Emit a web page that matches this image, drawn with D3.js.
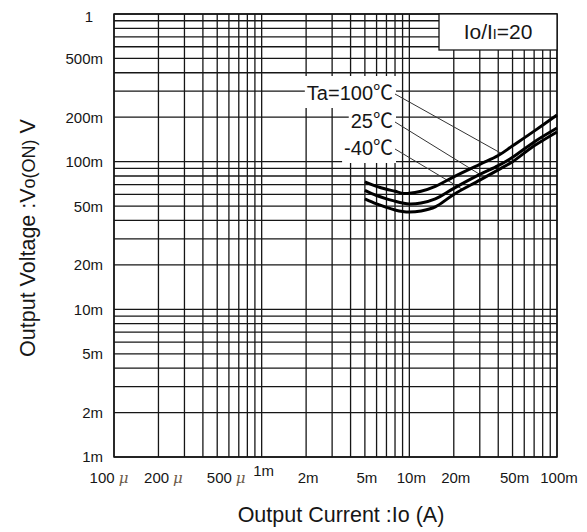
<!DOCTYPE html>
<html>
<head>
<meta charset="utf-8">
<script src="https://cdn.jsdelivr.net/npm/d3@7"></script>
<style>
  body { margin: 0; background: #fff; }
  svg { display: block; font-family: "Liberation Sans", Arial, sans-serif; }
</style>
</head>
<body>
<svg id="chart" width="587" height="532"></svg>
<script>
// output current (A) where the curves were read
let current = [0.005, 0.006, 0.007, 0.008, 0.009, 0.010, 0.012, 0.015, 0.020, 0.030, 0.040, 0.050, 0.070, 0.100];

// output voltage (V) per ambient temperature
let v100 = [0.073, 0.068, 0.065, 0.063, 0.061, 0.061, 0.063, 0.068, 0.079, 0.096, 0.110, 0.128, 0.161, 0.207];
let v25  = [0.064, 0.059, 0.056, 0.054, 0.0525, 0.0517, 0.0525, 0.056, 0.066, 0.082, 0.094, 0.107, 0.136, 0.169];
let vm40 = [0.056, 0.0517, 0.049, 0.0471, 0.046, 0.0456, 0.0464, 0.0494, 0.060, 0.075, 0.088, 0.100, 0.128, 0.159];

let seriesNames = ["Ta=100", "25", "-40"];
let leaderAt = [0.042, 0.030, 0.023];   // current where each label's leader meets its curve

let xTickVals = [1e-4, 2e-4, 5e-4, 1e-3, 2e-3, 5e-3, 1e-2, 2e-2, 5e-2, 1e-1];
let xTickLabels = ["100", "200", "500", "1m", "2m", "5m", "10m", "20m", "50m", "100m"];
let yTickVals = [1, 0.5, 0.2, 0.1, 0.05, 0.02, 0.01, 0.005, 0.002, 0.001];
let yTickLabels = ["1", "500m", "200m", "100m", "50m", "20m", "10m", "5m", "2m", "1m"];

let plotL = 114, plotR = 557, plotT = 14, plotB = 457;
let ink = "#161616";

let svg = d3.select("#chart");

let x = d3.scaleLog().domain([1e-4, 1e-1]).range([plotL, plotR]);
let y = d3.scaleLog().domain([1e-3, 1]).range([plotB, plotT]);

// grid
let grid = svg.append("g");
grid.selectAll(".vg")
    .data(x.ticks())
    .enter()
    .append("line")
    .attr("x1", d => x(d)).attr("x2", d => x(d))
    .attr("y1", plotT).attr("y2", plotB)
    .attr("stroke", ink).attr("stroke-width", 1.3);

grid.selectAll(".hg")
    .data(y.ticks())
    .enter()
    .append("line")
    .attr("x1", plotL).attr("x2", plotR)
    .attr("y1", d => y(d)).attr("y2", d => y(d))
    .attr("stroke", ink).attr("stroke-width", 1.3);

svg.append("rect")
    .attr("x", plotL).attr("y", plotT)
    .attr("width", plotR - plotL).attr("height", plotB - plotT)
    .attr("fill", "none").attr("stroke", ink).attr("stroke-width", 1.5);

// tick labels
svg.selectAll(".yl")
    .data(yTickVals)
    .enter()
    .append("text")
    .attr("x", d => d === 1 ? 89 : 103)
    .attr("y", d => y(d) + (d === 1 ? 3 : 0))
    .attr("dy", "0.36em")
    .attr("text-anchor", d => d === 1 ? "middle" : "end")
    .attr("font-size", 15)
    .attr("fill", ink)
    .text((d, i) => yTickLabels[i]);

// the micro labels sit a little off their lines in the original
let microShift = d => d === 1e-4 ? -5 : d === 2e-4 ? 5 : 9;

let xl = svg.selectAll(".xl")
    .data(xTickVals)
    .enter()
    .append("text")
    .attr("x", d => x(d) + (d < 1e-3 ? microShift(d) : 2))
    .attr("y", d => d === 1e-3 ? 476 : 483)
    .attr("text-anchor", "middle")
    .attr("font-size", 15)
    .attr("fill", ink);

xl.append("tspan").text((d, i) => xTickLabels[i]);
xl.filter(d => d < 1e-3)
    .append("tspan")
    .attr("dx", 4)
    .attr("font-family", "'DejaVu Serif', serif")
    .attr("font-style", "italic")
    .attr("fill", "#6b5a4a")
    .text("μ");

// axis titles
svg.append("text")
    .attr("x", 341).attr("y", 522)
    .attr("text-anchor", "middle")
    .attr("font-size", 21.5)
    .attr("fill", ink)
    .text("Output Current :Io  (A)");

let yt = svg.append("text")
    .attr("transform", "translate(35,238) rotate(-90)")
    .attr("text-anchor", "middle")
    .attr("font-size", 21.5)
    .attr("fill", ink);
yt.append("tspan").text("Output Voltage :V");
yt.append("tspan").attr("font-size", 18).text("o(ON)");
yt.append("tspan").text(" V");

// curves
let allSeries = [v100, v25, vm40];
let line = d3.line()
    .x(d => x(d[0]))
    .y(d => y(d[1]))
    .curve(d3.curveCatmullRom.alpha(0.5));

function valueAt(vals, c) {
    for (let i = 1; i < current.length; i++) {
        if (c <= current[i]) {
            let t = (Math.log(c) - Math.log(current[i - 1])) / (Math.log(current[i]) - Math.log(current[i - 1]));
            return Math.exp(Math.log(vals[i - 1]) + t * (Math.log(vals[i]) - Math.log(vals[i - 1])));
        }
    }
    return vals[vals.length - 1];
}

// labels with white backing and leaders
let labelBase = [100, 128, 155];
allSeries.forEach((vals, i) => {
    let t = svg.append("text")
        .attr("x", 393).attr("y", labelBase[i])
        .attr("text-anchor", "end")
        .attr("font-size", 20)
        .attr("fill", ink);
    t.append("tspan").text(seriesNames[i]);
    t.append("tspan")
        .attr("font-family", "'Noto Sans CJK JP', sans-serif")
        .text("℃");

    let b = t.node().getBBox();
    svg.insert("rect", "text")
        .attr("x", b.x - 2).attr("y", b.y - 1)
        .attr("width", b.width + 5).attr("height", b.height + 3)
        .attr("fill", "#fff");

    svg.append("line")
        .attr("x1", 395).attr("y1", labelBase[i] - 6)
        .attr("x2", x(leaderAt[i]))
        .attr("y2", y(valueAt(vals, leaderAt[i])))
        .attr("stroke", "#333").attr("stroke-width", 1);
});

allSeries.forEach(vals => {
    svg.append("path")
        .datum(current.map((c, i) => [c, vals[i]]))
        .attr("d", line)
        .attr("fill", "none")
        .attr("stroke", "#000")
        .attr("stroke-width", 3);
});

// condition box
svg.append("rect")
    .attr("x", 439).attr("y", plotT)
    .attr("width", plotR - 439).attr("height", 36)
    .attr("fill", "#fff").attr("stroke", ink).attr("stroke-width", 1.3);

let cond = svg.append("text")
    .attr("x", 498).attr("y", 39)
    .attr("text-anchor", "middle")
    .attr("font-size", 21)
    .attr("fill", ink);
cond.append("tspan").text("Io/I");
cond.append("tspan").attr("font-size", 14).text("I");
cond.append("tspan").text("=20");
</script>
</body>
</html>
